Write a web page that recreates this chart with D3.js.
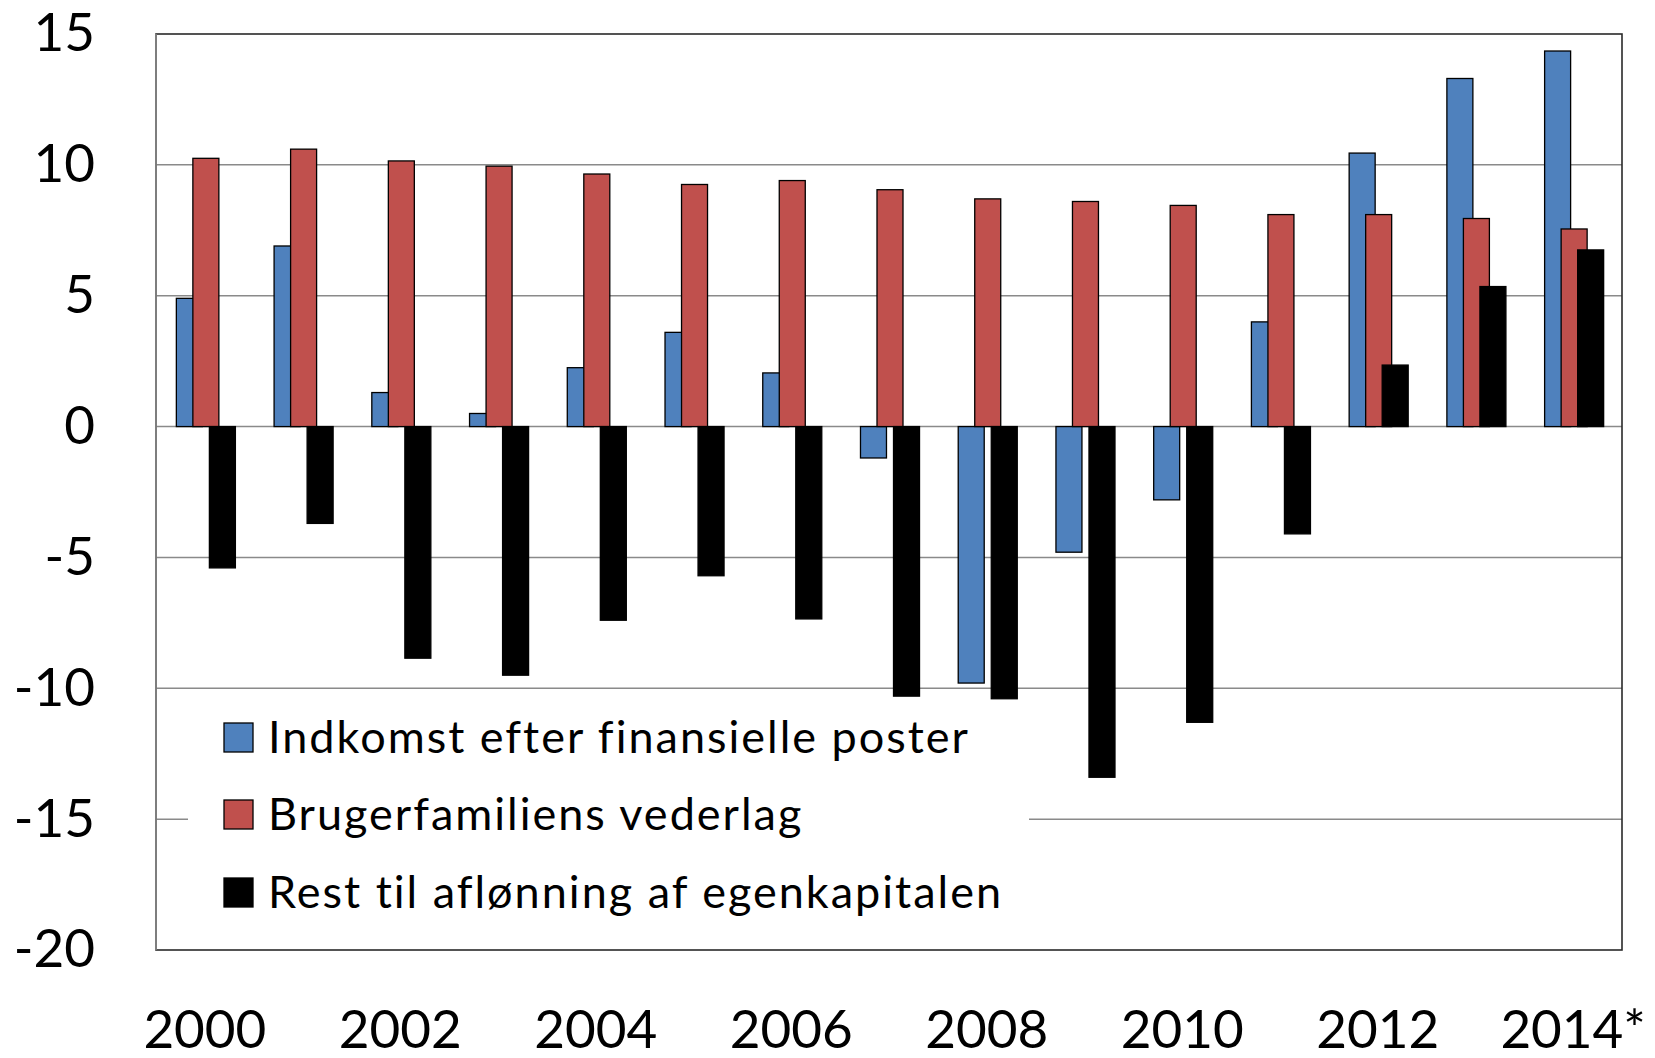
<!DOCTYPE html>
<html>
<head>
<meta charset="utf-8">
<script src="https://cdn.jsdelivr.net/npm/d3@7"></script>
<style>
  body { margin: 0; background: #fff; }
  text { font-family: Lato, "Open Sans", sans-serif; fill: #000; font-variant-ligatures: none; }
</style>
</head>
<body>
<div id="chart"></div>
<script>
// data
var years = ["2000", "2001", "2002", "2003", "2004", "2005", "2006", "2007",
             "2008", "2009", "2010", "2011", "2012", "2013", "2014*"];
var yearLabels = ["2000", "2002", "2004", "2006", "2008", "2010", "2012", "2014*"];
var seriesNames = ["Indkomst efter finansielle poster", "Brugerfamiliens vederlag",
                   "Rest til aflønning af egenkapitalen"];
var indkomst = [4.9, 6.9, 1.3, 0.5, 2.25, 3.6, 2.05, -1.2, -9.8, -4.8, -2.8, 4.0, 10.45, 13.3, 14.35];
var vederlag = [10.25, 10.6, 10.15, 9.95, 9.65, 9.25, 9.4, 9.05, 8.7, 8.6, 8.45, 8.1, 8.1, 7.95, 7.55];
var rest = [-5.4, -3.7, -8.85, -9.5, -7.4, -5.7, -7.35, -10.3, -10.4, -13.4, -11.3, -4.1, 2.35, 5.35, 6.75];
var yTicks = [15, 10, 5, 0, -5, -10, -15, -20];
var colors = ["#4F81BD", "#C0504D", "#000000"];

var W = 1655, H = 1058;
var margin = { top: 34, right: 33, bottom: 108, left: 156 };
var width = W - margin.left - margin.right,
    height = H - margin.top - margin.bottom;

var svg = d3.select("#chart").append("svg")
    .attr("width", W)
    .attr("height", H);

var g = svg.append("g")
    .attr("transform", "translate(" + margin.left + "," + margin.top + ")");

var x = d3.scaleBand().domain(years).range([0, width]).padding(0);
var y = d3.scaleLinear().domain([-20, 15]).range([height, 0]);

// gridlines
g.selectAll(".grid")
    .data(yTicks.filter(d => d > -20 && d < 15))
    .enter().append("line")
    .attr("x1", 0).attr("x2", width)
    .attr("y1", d => y(d)).attr("y2", d => y(d))
    .attr("stroke", "#8a8a8a")
    .attr("stroke-width", 1.5);

// bars
var bw = x.bandwidth() * 0.266;
var step = x.bandwidth() * 0.169;
var allSeries = [indkomst, vederlag, rest];

allSeries.forEach(function(vals, i) {
    g.selectAll(".bar" + i)
        .data(vals)
        .enter().append("rect")
        .attr("x", (d, j) => x(years[j]) + x.bandwidth() / 2 + (i - 1) * step - bw / 2 + 1)
        .attr("y", d => y(Math.max(0, d)))
        .attr("width", bw)
        .attr("height", d => Math.abs(y(d) - y(0)))
        .attr("fill", colors[i])
        .attr("stroke", "#000")
        .attr("stroke-width", 1.3);
});

// plot border
g.append("rect")
    .attr("x", 0).attr("y", 0)
    .attr("width", width).attr("height", height)
    .attr("fill", "none")
    .attr("stroke", "#2a2a2a")
    .attr("stroke-width", 1.6);
g.append("line")
    .attr("x1", 0).attr("x2", 0).attr("y1", 0).attr("y2", height)
    .attr("stroke", "#8a8a8a").attr("stroke-width", 1.6);

// y axis labels (plain hyphen for negatives, as in the original)
var yAxis = d3.axisLeft(y).tickValues(yTicks).tickSize(0).tickPadding(61)
    .tickFormat(d => String(d));
var ya = g.append("g").call(yAxis);
ya.select(".domain").remove();
ya.selectAll("text")
    .attr("font-size", "53px")
    .attr("font-family", "Lato, sans-serif")
    .attr("fill", "#000");

// x axis labels (every other year)
var xAxis = d3.axisBottom(x).tickValues(yearLabels).tickSize(0).tickPadding(60);
var xa = g.append("g").attr("transform", "translate(0," + height + ")").call(xAxis);
xa.select(".domain").remove();
xa.selectAll("text")
    .attr("font-size", "53px")
    .attr("font-family", "Lato, sans-serif")
    .attr("fill", "#000");

// legend
var legend = svg.append("g");
legend.append("rect")
    .attr("x", 188).attr("y", 700)
    .attr("width", 841).attr("height", 236)
    .attr("fill", "#fff");

var legendY = [753, 830, 908];
seriesNames.forEach(function(name, i) {
    legend.append("rect")
        .attr("x", 224).attr("y", legendY[i] - 30)
        .attr("width", 29).attr("height", 29)
        .attr("fill", colors[i])
        .attr("stroke", "#000")
        .attr("stroke-width", 1.3);
    legend.append("text")
        .attr("x", 268).attr("y", legendY[i])
        .attr("font-size", "45px")
        .attr("letter-spacing", "2px")
        .text(name);
});
</script>
</body>
</html>
